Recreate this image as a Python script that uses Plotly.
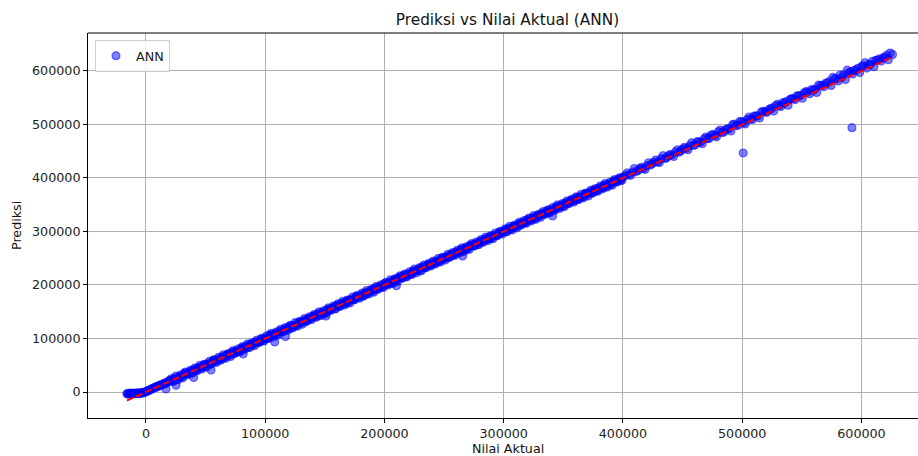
import plotly.graph_objects as go

# ---- data (values in thousands) ----
actual_low = [-16.0, -15.3, -14.6, -13.9, -13.1, -12.4, -11.6, -10.9, -10.1, -9.4, -8.6,
              -7.9, -7.1, -6.4, -5.6, -4.9, -4.1, -3.4, -2.6, -1.9, -1.1, -0.4,
              0.4, 1.2, 2.0, 2.9, 3.7, 4.6, 5.4, 6.3, 7.1, 8.0, 8.8, 9.7, 10.5, 11.4,
              12.2, 13.1, 13.9, 14.8, 15.6, 16.5, 17.3, 18.2, 19.0]
pred_low = [-3.4, -2.6, -4.1, -3.0, -2.2, -3.8, -2.9, -1.9, -3.5, -2.4, -3.1,
            -1.6, -2.8, -2.0, -3.3, -1.4, -2.5, -1.1, -1.8, -0.6, -0.9, 0.3,
            1.1, 1.4, 2.9, 3.1, 4.8, 5.0, 6.7, 6.9, 8.4, 8.6, 10.1, 10.0, 11.8, 11.6,
            13.2, 13.3, 14.9, 14.6, 16.5, 16.1, 17.9, 18.0, 19.6]

actual_mid = [20, 22, 24, 26, 28, 30, 32, 34, 36, 38, 40, 42, 44, 46, 48, 50, 52, 54, 56, 58,
              60, 62, 64, 66, 68, 70, 72, 74, 76, 78, 80, 82, 84, 86, 88, 90, 92, 94, 96, 98,
              100, 102, 104, 106, 108, 110, 112, 114, 116, 118, 120, 122, 124, 126, 128, 130,
              132, 134, 136, 138, 140, 142, 144, 146, 148, 150, 152, 154, 156, 158, 160, 162,
              164, 166, 168, 170, 172, 174, 176, 178, 180, 182, 184, 186, 188, 190, 192, 194,
              196, 198, 200, 202, 204, 206, 208, 210, 212, 214, 216, 218, 220, 222, 224, 226,
              228, 230, 232, 234, 236, 238, 240, 242, 244, 246, 248, 250, 252, 254, 256, 258,
              260, 262, 264, 266, 268, 270, 272, 274, 276, 278, 280, 282, 284, 286, 288, 290,
              292, 294, 296, 298, 300, 302, 304, 306, 308, 310, 312, 314, 316, 318, 320, 322,
              324, 326, 328, 330, 332, 334, 336, 338, 340, 342, 344, 346, 348, 350, 352, 354,
              356, 358, 360, 362, 364, 366, 368, 370, 372, 374, 376, 378, 380, 382, 384, 386,
              388, 390, 392, 394, 396, 398, 400]
pred_mid = [21.5, 21.0, 26.2, 24.0, 28.6, 28.6, 34.6, 33.5, 37.0, 35.6, 41.8, 41.2, 45.5, 45.0,
            50.2, 48.0, 52.6, 52.6, 58.6, 57.5, 61.0, 59.6, 65.8, 65.2, 69.5, 69.0, 74.2, 72.0,
            76.6, 76.6, 82.6, 81.5, 85.0, 83.6, 89.8, 89.2, 93.5, 93.0, 98.2, 96.0, 100.6, 100.6,
            106.6, 105.5, 109.0, 107.6, 113.8, 113.2, 117.5, 117.0, 122.2, 120.0, 124.6, 124.6,
            130.6, 129.5, 133.0, 131.6, 137.8, 137.2, 141.5, 141.0, 146.2, 144.0, 148.6, 148.6,
            154.6, 153.5, 157.0, 155.6, 161.8, 161.2, 165.5, 165.0, 170.2, 168.0, 172.6, 172.6,
            178.6, 177.5, 181.0, 179.6, 185.8, 185.2, 189.5, 189.0, 194.2, 192.0, 196.6, 196.6,
            202.6, 201.5, 205.0, 203.6, 209.8, 209.2, 213.5, 213.0, 218.2, 216.0, 220.6, 220.6,
            226.6, 225.5, 229.0, 227.6, 233.8, 233.2, 237.5, 237.0, 242.2, 240.0, 244.6, 244.6,
            250.6, 249.5, 253.0, 251.6, 257.8, 257.2, 261.5, 261.0, 266.2, 264.0, 268.6, 268.6,
            274.6, 273.5, 277.0, 275.6, 281.8, 281.2, 285.5, 285.0, 290.2, 288.0, 292.6, 292.6,
            298.6, 297.5, 301.0, 299.6, 305.8, 305.2, 309.5, 309.0, 314.2, 312.0, 316.6, 316.6,
            322.6, 321.5, 325.0, 323.6, 329.8, 329.2, 333.5, 333.0, 338.2, 336.0, 340.6, 340.6,
            346.6, 345.5, 349.0, 347.6, 353.8, 353.2, 357.5, 357.0, 362.2, 360.0, 364.6, 364.6,
            370.6, 369.5, 373.0, 371.6, 377.8, 377.2, 381.5, 381.0, 386.2, 384.0, 388.6, 388.6,
            394.6, 393.5, 397.0, 395.6, 401.8]

actual_mid2 = [21, 23, 25, 27, 29, 31, 33, 35, 37, 39, 41, 43, 45, 47, 49, 51, 53, 55, 57, 59,
               61, 63, 65, 67, 69, 71, 73, 75, 77, 79, 81, 83, 85, 87, 89, 91, 93, 95, 97, 99,
               101, 103, 105, 107, 109, 111, 113, 115, 117, 119, 121, 123, 125, 127, 129, 131,
               133, 135, 137, 139, 141, 143, 145, 147, 149, 151, 153, 155, 157, 159, 161, 163,
               165, 167, 169, 171, 173, 175, 177, 179, 181, 183, 185, 187, 189, 191, 193, 195,
               197, 199, 201, 203, 205, 207, 209, 211, 213, 215, 217, 219, 221, 223, 225, 227,
               229, 231, 233, 235, 237, 239, 241, 243, 245, 247, 249, 251, 253, 255, 257, 259,
               261, 263, 265, 267, 269, 271, 273, 275, 277, 279, 281, 283, 285, 287, 289, 291,
               293, 295, 297, 299, 301, 303, 305, 307, 309, 311, 313, 315, 317, 319, 321, 323,
               325, 327, 329, 331, 333, 335, 337, 339, 341, 343, 345, 347, 349, 351, 353, 355,
               357, 359, 361, 363, 365, 367, 369, 371, 373, 375, 377, 379, 381, 383, 385, 387,
               389, 391, 393, 395, 397, 399]
pred_mid2 = [24.8, 19.8, 29.6, 23.0, 31.9, 26.5, 37.2, 32.4, 40.4, 35.3, 44.8, 39.8, 49.6, 43.0,
             51.9, 46.5, 57.2, 52.4, 60.4, 55.3, 64.8, 59.8, 69.6, 63.0, 71.9, 66.5, 77.2, 72.4,
             80.4, 75.3, 84.8, 79.8, 89.6, 83.0, 91.9, 86.5, 97.2, 92.4, 100.4, 95.3, 104.8, 99.8,
             109.6, 103.0, 111.9, 106.5, 117.2, 112.4, 120.4, 115.3, 124.8, 119.8, 129.6, 123.0,
             131.9, 126.5, 137.2, 132.4, 140.4, 135.3, 144.8, 139.8, 149.6, 143.0, 151.9, 146.5,
             157.2, 152.4, 160.4, 155.3, 164.8, 159.8, 169.6, 163.0, 171.9, 166.5, 177.2, 172.4,
             180.4, 175.3, 184.8, 179.8, 189.6, 183.0, 191.9, 186.5, 197.2, 192.4, 200.4, 195.3,
             204.8, 199.8, 209.6, 203.0, 211.9, 206.5, 217.2, 212.4, 220.4, 215.3, 224.8, 219.8,
             229.6, 223.0, 231.9, 226.5, 237.2, 232.4, 240.4, 235.3, 244.8, 239.8, 249.6, 243.0,
             251.9, 246.5, 257.2, 252.4, 260.4, 255.3, 264.8, 259.8, 269.6, 263.0, 271.9, 266.5,
             277.2, 272.4, 280.4, 275.3, 284.8, 279.8, 289.6, 283.0, 291.9, 286.5, 297.2, 292.4,
             300.4, 295.3, 304.8, 299.8, 309.6, 303.0, 311.9, 306.5, 317.2, 312.4, 320.4, 315.3,
             324.8, 319.8, 329.6, 323.0, 331.9, 326.5, 337.2, 332.4, 340.4, 335.3, 344.8, 339.8,
             349.6, 343.0, 351.9, 346.5, 357.2, 352.4, 360.4, 355.3, 364.8, 359.8, 369.6, 363.0,
             371.9, 366.5, 377.2, 372.4, 380.4, 375.3, 384.8, 379.8, 389.6, 383.0, 391.9, 386.5,
             397.2, 392.4, 400.4, 395.3]

actual_mid3 = [20.5, 23.5, 26.5, 29.5, 32.5, 35.5, 38.5, 41.5, 44.5, 47.5, 50.5, 53.5, 56.5,
               59.5, 62.5, 65.5, 68.5, 71.5, 74.5, 77.5, 80.5, 83.5, 86.5, 89.5, 92.5, 95.5,
               98.5, 101.5, 104.5, 107.5, 110.5, 113.5, 116.5, 119.5, 122.5, 125.5, 128.5,
               131.5, 134.5, 137.5, 140.5, 143.5, 146.5, 149.5, 152.5, 155.5, 158.5, 161.5,
               164.5, 167.5, 170.5, 173.5, 176.5, 179.5, 182.5, 185.5, 188.5, 191.5, 194.5,
               197.5, 200.5, 203.5, 206.5, 209.5, 212.5, 215.5, 218.5, 221.5, 224.5, 227.5,
               230.5, 233.5, 236.5, 239.5, 242.5, 245.5, 248.5, 251.5, 254.5, 257.5, 260.5,
               263.5, 266.5, 269.5, 272.5, 275.5, 278.5, 281.5, 284.5, 287.5, 290.5, 293.5,
               296.5, 299.5, 302.5, 305.5, 308.5, 311.5, 314.5, 317.5, 320.5, 323.5, 326.5,
               329.5, 332.5, 335.5, 338.5, 341.5, 344.5, 347.5, 350.5, 353.5, 356.5, 359.5,
               362.5, 365.5, 368.5, 371.5, 374.5, 377.5, 380.5, 383.5, 386.5, 389.5, 392.5,
               395.5, 398.5]
pred_mid3 = [21.3, 22.3, 26.8, 29.0, 33.9, 34.6, 39.3, 40.3, 44.8, 47.0, 51.9, 52.6, 57.3,
             58.3, 62.8, 65.0, 69.9, 70.6, 75.3, 76.3, 80.8, 83.0, 87.9, 88.6, 93.3, 94.3,
             98.8, 101.0, 105.9, 106.6, 111.3, 112.3, 116.8, 119.0, 123.9, 124.6, 129.3,
             130.3, 134.8, 137.0, 141.9, 142.6, 147.3, 148.3, 152.8, 155.0, 159.9, 160.6,
             165.3, 166.3, 170.8, 173.0, 177.9, 178.6, 183.3, 184.3, 188.8, 191.0, 195.9,
             196.6, 201.3, 202.3, 206.8, 209.0, 213.9, 214.6, 219.3, 220.3, 224.8, 227.0,
             231.9, 232.6, 237.3, 238.3, 242.8, 245.0, 249.9, 250.6, 255.3, 256.3, 260.8,
             263.0, 267.9, 268.6, 273.3, 274.3, 278.8, 281.0, 285.9, 286.6, 291.3, 292.3,
             296.8, 299.0, 303.9, 304.6, 309.3, 310.3, 314.8, 317.0, 321.9, 322.6, 327.3,
             328.3, 332.8, 335.0, 339.9, 340.6, 345.3, 346.3, 350.8, 353.0, 357.9, 358.6,
             363.3, 364.3, 368.8, 371.0, 375.9, 376.6, 381.3, 382.3, 386.8, 389.0, 393.9,
             394.6, 399.3]

actual_high = [402, 405, 408, 411, 414, 417, 420, 423, 426, 429, 432, 435, 438, 441, 444, 447,
               450, 453, 456, 459, 462, 465, 468, 471, 474, 477, 480, 483, 486, 489, 492, 495,
               498, 501, 504, 507, 510, 513, 516, 519, 522, 525, 528, 531, 534, 537, 540, 543,
               546, 549, 552, 555, 558, 561, 564, 567, 570, 573, 576, 579, 582, 585, 588, 591,
               594, 597, 600, 603, 606, 609, 612, 615, 618, 621, 624, 626]
pred_high = [404.5, 406.0, 411.2, 412.0, 417.5, 418.2, 423.0, 424.1, 429.4, 430.0, 435.8, 436.5,
             441.2, 443.0, 448.6, 448.2, 454.0, 455.5, 460.2, 461.0, 467.5, 466.8, 473.0, 473.5,
             480.2, 479.0, 486.5, 485.2, 490.0, 492.5, 499.8, 498.0, 505.5, 503.2, 509.0, 510.4,
             515.8, 516.0, 523.5, 524.0, 527.2, 530.5, 535.0, 535.2, 540.8, 543.0, 546.5, 548.2,
             553.6, 554.0, 559.2, 560.5, 565.0, 566.2, 573.5, 573.0, 577.2, 580.5, 588.0, 585.2,
             592.5, 593.0, 601.5, 599.0, 601.2, 605.0, 608.5, 615.5, 612.0, 617.8, 620.0, 622.6,
             624.5, 629.0, 633.5, 631.0]

actual_high2 = [403.5, 406.5, 409.5, 412.5, 415.5, 418.5, 421.5, 424.5, 427.5, 430.5, 433.5,
                436.5, 439.5, 442.5, 445.5, 448.5, 451.5, 454.5, 457.5, 460.5, 463.5, 466.5,
                469.5, 472.5, 475.5, 478.5, 481.5, 484.5, 487.5, 490.5, 493.5, 496.5, 499.5,
                502.5, 505.5, 508.5, 511.5, 514.5, 517.5, 520.5, 523.5, 526.5, 529.5, 532.5,
                535.5, 538.5, 541.5, 544.5, 547.5, 550.5, 553.5, 556.5, 559.5, 562.5, 565.5,
                568.5, 571.5, 574.5, 577.5, 580.5, 583.5, 586.5, 589.5, 592.5, 595.5, 598.5,
                601.5, 604.5, 607.5, 610.5, 613.5, 616.5, 619.5, 622.5]
pred_high2 = [409.5, 405.0, 417.7, 413.5, 420.0, 416.0, 428.5, 426.5, 433.5, 429.0, 441.7,
              437.5, 444.0, 440.0, 452.5, 450.5, 457.5, 453.0, 465.7, 461.5, 468.0, 464.0,
              476.5, 474.5, 481.5, 477.0, 489.7, 485.5, 492.0, 488.0, 500.5, 498.5, 505.5,
              501.0, 513.7, 509.5, 516.0, 512.0, 524.5, 522.5, 529.5, 525.0, 537.7, 533.5,
              540.0, 536.0, 548.5, 546.5, 553.5, 549.0, 561.7, 557.5, 564.0, 560.0, 572.5,
              570.5, 577.5, 573.0, 585.7, 581.5, 588.0, 584.0, 596.5, 594.5, 601.5, 597.0,
              609.7, 605.5, 612.0, 608.0, 620.5, 618.5, 625.5, 621.0]

actual_outlier = [16.8, 25.2, 40.0, 54.6, 81.5, 108.0, 117.0, 151.0, 210.0, 265.5, 341.0, 500.8, 592.0]
pred_outlier = [5.6, 12.5, 27.0, 41.0, 71.0, 93.5, 103.5, 142.0, 198.5, 254.0, 329.0, 446.7, 494.0]

x_ticks = [0, 100000, 200000, 300000, 400000, 500000, 600000]
y_ticks = [0, 100000, 200000, 300000, 400000, 500000, 600000]

UNIT = 1000
all_actual = actual_low + actual_mid + actual_mid2 + actual_mid3 + actual_high + actual_high2 + actual_outlier
all_pred = pred_low + pred_mid + pred_mid2 + pred_mid3 + pred_high + pred_high2 + pred_outlier
actual = [v * UNIT for v in all_actual]
pred = [v * UNIT for v in all_pred]
line_pts = [min(all_actual) * UNIT, max(all_actual) * UNIT]

FONT = "DejaVu Sans"

fig = go.Figure()
fig.add_trace(go.Scatter(
    x=actual, y=pred, mode="markers", name="ANN",
    marker=dict(color="rgba(0,0,255,0.5)", size=8,
                line=dict(width=1.2, color="rgba(0,0,255,0.5)")),
))
fig.add_trace(go.Scatter(
    x=line_pts, y=line_pts, mode="lines", showlegend=False,
    line=dict(color="#ff0000", width=2, dash="7px,3px"),
))

axis_common = dict(
    showgrid=True, gridcolor="#b0b0b0", gridwidth=0.8,
    zeroline=False, showline=True, linecolor="black", linewidth=1,
    ticks="outside", ticklen=4, tickcolor="black", tickwidth=1,
    tickformat="d", tickfont=dict(family=FONT, size=12.7, color="#222"),
)

plot_l, plot_r, plot_t, plot_b = 88, 0, 33, 38
plot_w = 918 - plot_l - plot_r
plot_h = 456 - plot_t - plot_b

fig.update_layout(
    width=918, height=456,
    margin=dict(l=plot_l, r=plot_r, t=plot_t, b=plot_b),
    paper_bgcolor="white", plot_bgcolor="white",
    font=dict(family=FONT, size=12.7, color="#222"),
    title=dict(text="Prediksi vs Nilai Aktual (ANN)", x=507.5 / 918, xref="container",
               xanchor="center", y=1 - 20 / 456, yref="container", yanchor="middle",
               font=dict(family=FONT, size=15.3, color="#111")),
    xaxis=dict(range=[-48600, 647400], tickvals=x_ticks, mirror=False, **axis_common),
    yaxis=dict(range=[-48600, 671000], tickvals=y_ticks, mirror=False, **axis_common),
    showlegend=True,
    legend=dict(x=0.0084, y=0.982, xanchor="left", yanchor="top",
                bgcolor="rgba(255,255,255,0.8)", bordercolor="#cccccc", borderwidth=1,
                font=dict(family=FONT, size=12.7, color="#222")),
    shapes=[dict(type="line", xref="paper", yref="paper", x0=0, x1=1, y0=1, y1=1,
                 line=dict(color="black", width=1))],
    annotations=[
        dict(text="Nilai Aktual", x=(508 - plot_l) / plot_w, y=(456 - plot_b - 448) / plot_h,
             xref="paper", yref="paper", xanchor="center", yanchor="middle", showarrow=False,
             font=dict(family=FONT, size=12.7, color="#111")),
        dict(text="Prediksi", x=(16.5 - plot_l) / plot_w, y=(456 - plot_b - 225.5) / plot_h,
             xref="paper", yref="paper", xanchor="center", yanchor="middle", showarrow=False,
             textangle=-90, font=dict(family=FONT, size=12.7, color="#111")),
    ],
)

fig.write_html("out.html", post_script="document.body.style.margin='0';",
               config={"displayModeBar": False})
